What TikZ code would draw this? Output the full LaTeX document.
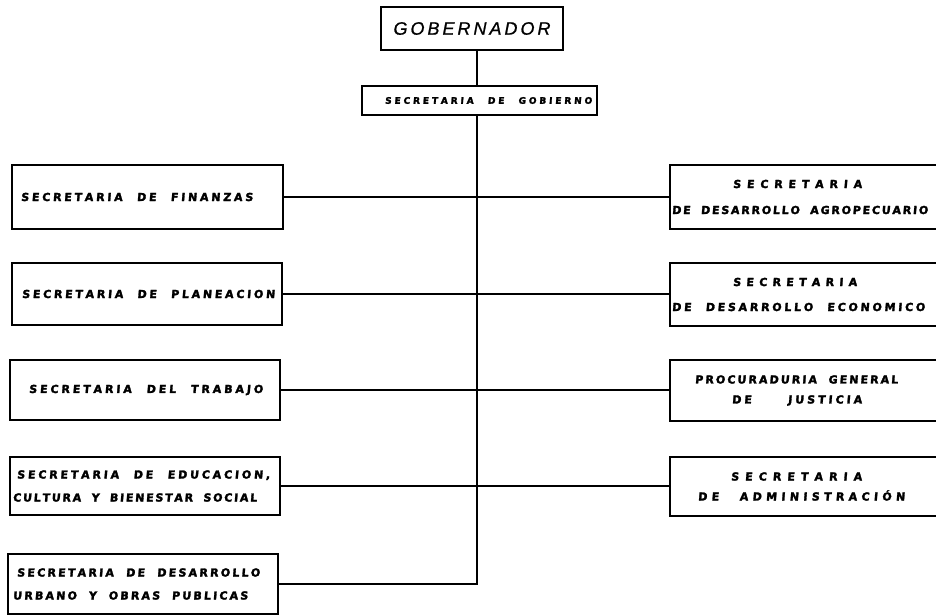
\documentclass[tikz,border=0pt]{standalone}
\usepackage{fontspec}
\newfontfamily\lab{DejaVu Sans Bold}[FakeSlant=0.08, FakeBold=2.5]
\newfontfamily\gobf{Liberation Sans Italic}[FakeBold=0.8]
\ExplSyntaxOn
\seq_new:N \l__spr_seq
\tl_new:N \l__spr_tl
\NewDocumentCommand \spr { m m }
 {
  \seq_set_split:Nnn \l__spr_seq { ~ } { #2 }
  \tl_set:Nn \l__spr_tl { \hskip 0pt plus -1fil }
  \seq_map_indexed_inline:Nn \l__spr_seq
   {
    \int_compare:nNnT { ##1 } > { 1 }
     { \tl_put_right:Nn \l__spr_tl { \hskip 0.3em plus 3fil } }
    \tl_map_inline:nn { ##2 }
     {
      \str_if_eq:nnTF { ####1 } { | }
       { \tl_put_right:Nn \l__spr_tl { \hskip 0pt plus 3fil } }
       { \tl_put_right:Nn \l__spr_tl { \hfil ####1 } }
     }
   }
  \makebox[#1][s]{ \l__spr_tl }
 }
\ExplSyntaxOff
\newcommand\lne[3]{\hspace*{#1}\spr{#2}{#3}}
\begin{document}
\begin{tikzpicture}[x=1pt,y=-1pt,
  orgbox/.style={draw, line width=1.5pt, inner xsep=0pt, inner ysep=0pt, align=left,
    font=\lab\fontsize{11}{23}\selectfont},
  link/.style={line width=1.3pt}]
\useasboundingbox (0,0) rectangle (936,615);
\clip (0,0) rectangle (936,615);
% top
\node[orgbox, minimum width=182pt, minimum height=43pt, align=center,
  font=\gobf\fontsize{18}{18}\selectfont] (gob) at (472,28.5) {\spr{157pt}{GOBERNADOR}};
\node[orgbox, minimum width=235pt, minimum height=29pt, text width=235pt,
  font=\lab\fontsize{9}{10}\selectfont] (sgob) at (479.5,100.5) {\lne{23pt}{207pt}{SECRETARIA DE GOBIERNO}};
% left column
\node[orgbox, minimum width=271pt, minimum height=64pt, text width=271pt] (fin) at (147.5,197)
  {\lne{9pt}{232pt}{SECRETARIA DE FINANZAS}};
\node[orgbox, minimum width=270pt, minimum height=62pt, text width=270pt] (pla) at (147,294)
  {\lne{10pt}{253pt}{SECRETARIA DE PLANEACION}};
\node[orgbox, minimum width=270pt, minimum height=60pt, text width=270pt] (tra) at (145,390)
  {\lne{19pt}{234pt}{SECRETARIA DEL TRABAJO}};
\node[orgbox, minimum width=270pt, minimum height=58pt, text width=270pt] (edu) at (145,486)
  {\lne{7pt}{253pt}{SECRETARIA DE EDUCACION,}\\
   \lne{3pt}{244pt}{CULTURA Y BIENESTAR SOCIAL}};
\node[orgbox, minimum width=270pt, minimum height=60pt, text width=270pt] (urb) at (143,584)
  {\lne{9pt}{243pt}{SECRETARIA DE DESARROLLO}\\
   \lne{5pt}{235pt}{URBANO Y OBRAS PUBLICAS}};
% right column
\node[orgbox, minimum width=275pt, minimum height=64pt, text width=275pt] (agr) at (807.5,197)
  {\lne{63pt}{129pt}{S E C R E T A R I A}\\[3pt]
   \lne{2pt}{256pt}{DE DESARROLLO AGROPECUARIO}};
\node[orgbox, minimum width=275pt, minimum height=63pt, text width=275pt] (eco) at (807.5,294.5)
  {\lne{63pt}{124pt}{S E C R E T A R I A}\\[2pt]
   \lne{2pt}{253pt}{DE DESARROLLO ECONOMICO}};
\node[orgbox, minimum width=275pt, minimum height=61pt, text width=275pt] (pro) at (807.5,390.5)
  {\lne{25pt}{203pt}{PROCURADURIA GENERAL}\\[-3pt]
   \lne{62pt}{130pt}{DE | JUSTICIA}};
\node[orgbox, minimum width=275pt, minimum height=59pt, text width=275pt] (adm) at (807.5,486.5)
  {\lne{61pt}{131pt}{S E C R E T A R I A}\\[-3pt]
   \lne{28pt}{207pt}{DE ADMINISTRACIÓN}};
% connectors
\coordinate (trunk) at (477,0);
\draw[link] (gob.south -| trunk) -- (sgob.north -| trunk);
\draw[link] (sgob.south -| trunk) -- (urb.east -| trunk) -- (urb.east);
\draw[link] (fin.east) -- (fin.east -| agr.west);
\draw[link] (pla.east) -- (pla.east -| eco.west);
\draw[link] (tra.east) -- (tra.east -| pro.west);
\draw[link] (edu.east) -- (edu.east -| adm.west);
\end{tikzpicture}
\end{document}
